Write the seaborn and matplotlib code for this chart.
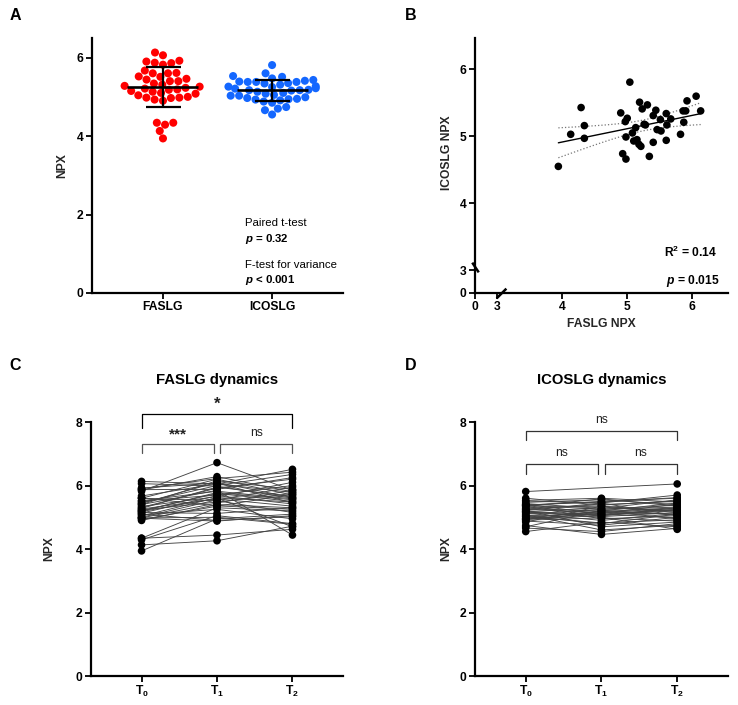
import numpy as np
import pandas as pd
import matplotlib
matplotlib.use("Agg")
import matplotlib.pyplot as plt
import seaborn as sns

# Style
sns.set_theme(style="ticks")
plt.rcParams["font.family"] = ["Liberation Sans", "DejaVu Sans"]
plt.rcParams["font.weight"] = "bold"
plt.rcParams["mathtext.fontset"] = "custom"
plt.rcParams["mathtext.rm"] = "Liberation Sans"
plt.rcParams["mathtext.bf"] = "Liberation Sans:bold"
plt.rcParams["mathtext.it"] = "Liberation Sans:italic"
plt.rcParams["mathtext.bfit"] = "Liberation Sans:italic:bold"
plt.rcParams["axes.edgecolor"] = "black"
plt.rcParams["text.color"] = "black"
plt.rcParams["xtick.color"] = "black"
plt.rcParams["ytick.color"] = "black"

RED = "#FF0000"
BLUE = "#1467FF"

# Data (NPX), one entry per patient, same order in every list
faslg_t0 = [5.04, 4.29, 4.34, 4.13, 4.34, 3.94, 5.19, 5.31, 5.23, 5.44, 4.90, 5.40, 5.00, 4.97,
            5.60, 5.51, 5.67, 5.61, 5.28, 5.13, 5.08, 5.46, 5.52, 4.98, 5.15, 5.18, 5.21, 5.40,
            5.60, 4.93, 4.98, 5.34, 5.86, 5.90, 5.92, 6.06, 6.13, 5.87, 5.82, 5.26, 5.10]
faslg_t1 = [5.62, 5.05, 4.44, 4.26, 5.30, 4.95, 5.78, 5.92, 5.48, 6.10, 5.40, 5.85, 5.55, 4.88,
            6.20, 5.70, 6.05, 5.36, 5.95, 5.68, 5.25, 6.00, 5.82, 5.45, 5.12, 5.60, 5.75, 6.15,
            5.52, 5.35, 5.00, 5.65, 6.28, 6.22, 6.08, 5.98, 6.05, 5.88, 6.72, 5.58, 4.90]
faslg_t2 = [5.48, 4.80, 4.62, 4.72, 5.20, 5.10, 5.55, 6.20, 5.75, 5.62, 5.30, 4.44, 5.95, 5.05,
            5.70, 6.00, 5.78, 5.25, 5.65, 5.42, 4.95, 6.35, 5.58, 5.85, 5.30, 4.70, 5.50, 5.88,
            5.15, 5.72, 4.78, 6.10, 5.80, 6.42, 5.45, 5.60, 6.51, 6.25, 5.85, 5.35, 5.02]

icoslg_t0 = [5.81, 5.43, 5.16, 5.03, 4.97, 4.55, 5.51, 5.47, 5.41, 5.39, 5.35, 5.31, 5.27, 5.22,
             5.34, 5.25, 5.26, 5.17, 5.17, 5.13, 5.05, 5.10, 5.08, 4.99, 4.95, 4.88, 4.85, 4.91,
             4.94, 4.74, 4.66, 4.70, 5.38, 5.38, 5.53, 5.60, 5.38, 5.21, 5.03, 5.18, 4.93]
icoslg_t1 = [np.nan, 5.28, 5.05, 4.80, 5.20, 4.85, 5.45, 5.55, 5.10, 5.48, 4.95, 5.35, 5.20, 4.70,
             5.58, 5.15, 5.40, 5.00, 5.30, 4.90, 5.10, 5.25, 4.60, 5.18, 5.05, 4.75, 5.35, 4.98,
             5.12, 4.46, 4.55, 5.22, 5.50, 5.02, 5.60, 5.38, 5.25, 5.45, 4.82, 5.08, 5.15]
icoslg_t2 = [6.05, 5.55, 5.30, 5.10, 4.95, 4.70, 5.70, 5.40, 5.25, 5.62, 5.05, 5.18, 5.45, 4.85,
             5.35, 5.28, 5.50, 4.62, 5.20, 5.12, 4.98, 5.38, 4.75, 5.30, 5.22, 5.00, 5.15, 4.88,
             5.42, 4.65, 4.80, 5.08, 5.60, 5.15, 5.48, 5.52, 5.32, 5.05, 4.92, 5.25, 5.10]

genes = ["FASLG", "ICOSLG"]
timepoints = ["T0", "T1", "T2"]
time_labels = [r"$\mathbf{T}_0$", r"$\mathbf{T}_1$", r"$\mathbf{T}_2$"]


def style_axes(ax):
    sns.despine(ax=ax)
    for side in ["left", "bottom"]:
        ax.spines[side].set_linewidth(1.6)
    ax.tick_params(width=1.3, length=4, labelsize=8.7, pad=2)
    for lab in ax.get_xticklabels() + ax.get_yticklabels():
        lab.set_fontweight("bold")


fig = plt.figure(figsize=(7.38, 7.05), dpi=100)
axA = fig.add_axes([0.1247, 0.5844, 0.3401, 0.3617])
axB = fig.add_axes([0.6436, 0.5844, 0.3428, 0.3617])
axC = fig.add_axes([0.1233, 0.0411, 0.3415, 0.3603])
axD = fig.add_axes([0.6436, 0.0411, 0.3428, 0.3603])

# A: swarm with mean +/- SD
n = len(faslg_t0)
df_a = pd.DataFrame({"gene": ["FASLG"] * n + ["ICOSLG"] * n,
                     "npx": faslg_t0 + icoslg_t0})
sns.swarmplot(data=df_a, x="gene", y="npx", hue="gene", order=genes,
              palette={"FASLG": RED, "ICOSLG": BLUE}, size=5.8, legend=False,
              ax=axA, zorder=2)
means = [np.mean(faslg_t0), np.mean(icoslg_t0)]
sds = [np.std(faslg_t0, ddof=1), np.std(icoslg_t0, ddof=1)]
axA.errorbar([0, 1], means, yerr=sds, fmt="none", ecolor="black", elinewidth=1.6,
             capsize=12.6, capthick=1.6, zorder=3)
axA.hlines(means, [-0.325, 0.675], [0.325, 1.325], color="black", lw=1.9, zorder=3)
axA.set_xlim(-0.65, 1.65)
axA.set_ylim(0, 6.5)
axA.set_yticks([0, 2, 4, 6])
axA.set_xlabel("")
axA.set_ylabel("NPX", fontsize=8.7, fontweight="bold")
axA.yaxis.set_label_coords(-0.096, 0.5)
style_axes(axA)
axA.text(0.61, 0.2745, "Paired t-test", transform=axA.transAxes, fontsize=8.2,
         fontweight="normal", va="center")
axA.text(0.61, 0.2137, r"$\mathbfit{p}$ = 0.32", transform=axA.transAxes, fontsize=8.2,
         fontweight="bold", va="center")
axA.text(0.61, 0.108, "F-test for variance", transform=axA.transAxes, fontsize=8.2,
         fontweight="normal", va="center")
axA.text(0.61, 0.050, r"$\mathbfit{p}$ < 0.001", transform=axA.transAxes, fontsize=8.2,
         fontweight="bold", va="center")

# B: correlation with broken axes (0-3 compressed)
K = 0.343


def fwd(v):
    v = np.asarray(v, dtype=float)
    return np.where(v <= 3, v * K / 3, v - 3 + K)


def inv(u):
    u = np.asarray(u, dtype=float)
    return np.where(u <= K, u * 3 / K, u + 3 - K)


axB.set_xscale("function", functions=(fwd, inv))
axB.set_yscale("function", functions=(fwd, inv))
sns.scatterplot(x=faslg_t0, y=icoslg_t0, color="black", s=30, edgecolor="none",
                ax=axB, zorder=3)
x = np.array(faslg_t0)
y = np.array(icoslg_t0)
slope, intercept = np.polyfit(x, y, 1)
xs = np.linspace(x.min(), x.max(), 100)
pred = intercept + slope * xs
resid = y - (intercept + slope * x)
s_err = np.sqrt(np.sum(resid ** 2) / (len(x) - 2))
t_crit = 2.023
band = t_crit * s_err * np.sqrt(1 / len(x) + (xs - x.mean()) ** 2 / np.sum((x - x.mean()) ** 2))
axB.plot(xs, pred, color="black", lw=1.0, zorder=2)
axB.plot(xs, pred + band, color="#777777", lw=0.9, ls=":", zorder=2)
axB.plot(xs, pred - band, color="#777777", lw=0.9, ls=":", zorder=2)
axB.set_xlim(0, 6.55)
axB.set_ylim(0, 6.47)
axB.set_xticks([0, 3, 4, 5, 6])
axB.set_yticks([0, 3, 4, 5, 6])
axB.set_xticklabels(["0", "3", "4", "5", "6"])
axB.set_yticklabels(["0", "3", "4", "5", "6"])
axB.minorticks_off()
axB.set_xlabel("FASLG NPX", fontsize=8.7, fontweight="bold")
axB.set_ylabel("ICOSLG NPX", fontsize=8.7, fontweight="bold")
axB.xaxis.set_label_coords(0.5, -0.098)
axB.yaxis.set_label_coords(-0.087, 0.55)
style_axes(axB)
axB.plot([0], [3.05], marker=[(-1, 1.5), (1, -1.5)], markersize=7, mew=1.8,
         color="black", ls="none", clip_on=False, zorder=4)
axB.plot([3.05], [0], marker=[(-1, -1), (1, 1)], markersize=7, mew=1.8,
         color="black", ls="none", clip_on=False, zorder=4)
axB.text(0.957, 0.161, r"R$^{\mathbf{2}}$ = 0.14", transform=axB.transAxes, fontsize=8.7,
         fontweight="bold", ha="right", va="center")
axB.text(0.968, 0.047, r"$\mathbfit{p}$ = 0.015", transform=axB.transAxes, fontsize=8.7,
         fontweight="bold", ha="right", va="center")


# C and D: paired dynamics
def dynamics(ax, t0, t1, t2, title, brackets):
    subj = list(range(len(t0)))
    df = pd.DataFrame({
        "subject": subj * 3,
        "time": [0] * len(t0) + [1] * len(t1) + [2] * len(t2),
        "npx": list(t0) + list(t1) + list(t2),
    }).dropna()
    sns.lineplot(data=df, x="time", y="npx", units="subject", estimator=None,
                 color="#444444", lw=0.65, ax=ax, zorder=2)
    sns.scatterplot(data=df, x="time", y="npx", color="black", s=30, edgecolor="none",
                    ax=ax, zorder=3)
    ax.set_xlim(-0.67, 2.67)
    ax.set_ylim(0, 8)
    ax.set_yticks([0, 2, 4, 6, 8])
    ax.set_xticks([0, 1, 2])
    ax.set_xticklabels(time_labels)
    ax.set_xlabel("")
    ax.set_ylabel("NPX", fontsize=8.7, fontweight="bold")
    style_axes(ax)
    ax.text(0.5, 1.165, title, transform=ax.transAxes, fontsize=10.7, fontweight="bold",
            ha="center", va="center")
    for x0, x1, ytop, ydrop, label, lsize, ly, col in brackets:
        ax.plot([x0, x0, x1, x1], [ydrop, ytop, ytop, ydrop], color=col, lw=0.9,
                clip_on=False)
        weight = "normal" if label == "ns" else "bold"
        ax.text((x0 + x1) / 2, ly, label, fontsize=lsize, fontweight=weight,
                ha="center", va="center", color="#222222", clip_on=False)


dynamics(axC, faslg_t0, faslg_t1, faslg_t2, "FASLG dynamics", [
    (0, 2, 8.25, 7.81, "*", 12, 8.57, "black"),
    (0, 0.96, 7.31, 7.02, "***", 11, 7.6, "#555555"),
    (1.04, 2, 7.31, 7.02, "ns", 8.7, 7.65, "#555555"),
])
axC.yaxis.set_label_coords(-0.143, 0.5)

dynamics(axD, icoslg_t0, icoslg_t1, icoslg_t2, "ICOSLG dynamics", [
    (0, 2, 7.72, 7.43, "ns", 8.7, 8.06, "#333333"),
    (0, 0.955, 6.68, 6.36, "ns", 8.7, 7.02, "#333333"),
    (1.045, 2, 6.68, 6.36, "ns", 8.7, 7.02, "#333333"),
])
axD.yaxis.set_label_coords(-0.091, 0.5)

# Panel letters
for letter, px, py in [("A", 15, 15), ("B", 411, 15), ("C", 15, 365), ("D", 411, 365)]:
    fig.text(px / 738, 1 - py / 705, letter, fontsize=11.5, fontweight="bold",
             ha="center", va="center")

fig.savefig("out.png", dpi=100)
plt.close(fig)
